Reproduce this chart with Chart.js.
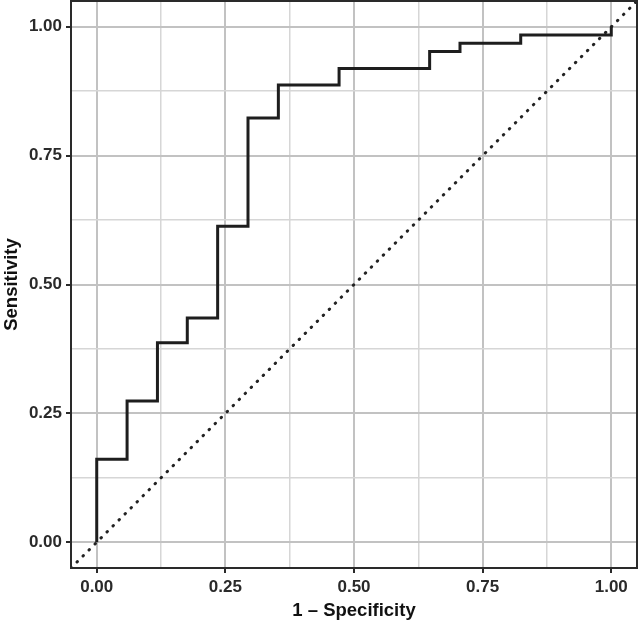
<!DOCTYPE html>
<html>
<head>
<meta charset="utf-8">
<script src="https://cdn.jsdelivr.net/npm/chart.js@4/dist/chart.umd.min.js"></script>
<style>
  html, body { margin: 0; padding: 0; background: #fff; }
  #wrap { width: 639px; height: 622px; }
</style>
</head>
<body>
<div id="wrap"><canvas id="rocCanvas" width="639" height="622"></canvas></div>
<script>
// ROC-käyrän pisteet (portaan kulmat), luettu kuvasta
const fpr = [0, 0, 0.059, 0.118, 0.176, 0.235, 0.294, 0.353, 0.471, 0.647, 0.706, 0.824, 1];
const tpr = [0, 0.161, 0.274, 0.387, 0.435, 0.613, 0.823, 0.887, 0.919, 0.952, 0.968, 0.984, 1];

// Satunnaisarvauksen viiva (pisteviiva)
const refX = [-0.05, 1.05];
const refY = [-0.05, 1.05];

// Ruudukko ja akselien merkinnät
const gridValues = [0, 0.125, 0.25, 0.375, 0.5, 0.625, 0.75, 0.875, 1];
const tickValues = [0, 0.25, 0.5, 0.75, 1];
const tickLabels = ["0.00", "0.25", "0.50", "0.75", "1.00"];

const isMajor = (v) => tickValues.some((t) => Math.abs(t - v) < 1e-9);

Chart.defaults.font.family = "'Liberation Sans', Arial, Helvetica, sans-serif";
Chart.defaults.color = "#222";

// Paneelin reunat joka puolelle
const panelBorder = {
  id: "panelBorder",
  afterDatasetsDraw(chart) {
    const { ctx, chartArea: a } = chart;
    ctx.save();
    ctx.strokeStyle = "#2a2a2a";
    ctx.lineWidth = 2;
    ctx.strokeRect(a.left, a.top, a.right - a.left, a.bottom - a.top);
    ctx.restore();
  },
};

const makeAxis = (title, fitSize, isX) => ({
  type: "linear",
  min: -0.05,
  max: 1.05,
  afterBuildTicks: (scale) => {
    scale.ticks = gridValues.map((v) => ({ value: v }));
  },
  afterFit: (scale) => {
    if (isX) {
      scale.height = fitSize;
      scale.paddingLeft = 0;
      scale.paddingRight = 0;
    } else {
      scale.width = fitSize;
      scale.paddingTop = 0;
      scale.paddingBottom = 0;
    }
  },
  border: { display: false },
  grid: {
    color: (c) => (c.tick && isMajor(c.tick.value) ? "#c2c2c2" : "#d6d6d6"),
    lineWidth: (c) => (c.tick && isMajor(c.tick.value) ? 2 : 1.5),
    tickColor: (c) => (c.tick && isMajor(c.tick.value) ? "#2a2a2a" : "rgba(0,0,0,0)"),
    tickWidth: 2,
    tickLength: 5,
  },
  ticks: {
    autoSkip: false,
    maxRotation: 0,
    padding: 4,
    font: { size: 17, weight: "bold" },
    color: "#2a2a2a",
    callback: (value) => {
      const i = tickValues.findIndex((t) => Math.abs(t - value) < 1e-9);
      return i >= 0 ? tickLabels[i] : "";
    },
  },
  title: {
    display: true,
    text: title,
    font: { size: 18.5, weight: "bold" },
    color: "#111",
    padding: isX ? { top: 1, bottom: 0 } : { top: 1, bottom: 2 },
  },
});

const chartConfig = {
  type: "line",
  data: {
    datasets: [
      {
        label: "ROC",
        data: fpr.map((x, i) => ({ x, y: tpr[i] })),
        borderColor: "#1e1e1e",
        borderWidth: 3,
        stepped: "before",
        pointRadius: 0,
        fill: false,
      },
      {
        label: "Referenssi",
        data: refX.map((x, i) => ({ x, y: refY[i] })),
        borderColor: "#222",
        borderWidth: 3,
        borderDash: [0.5, 8],
        borderCapStyle: "round",
        pointRadius: 0,
        fill: false,
      },
    ],
  },
  options: {
    responsive: false,
    animation: false,
    layout: { padding: { top: 1, right: 2, left: 0, bottom: 0 } },
    plugins: {
      legend: { display: false },
      tooltip: { enabled: false },
    },
    scales: {
      x: makeAxis("1 \u2013 Specificity", 54, true),
      y: makeAxis("Sensitivity", 71, false),
    },
  },
  plugins: [panelBorder],
};

new Chart(document.getElementById("rocCanvas"), chartConfig);
</script>
</body>
</html>
